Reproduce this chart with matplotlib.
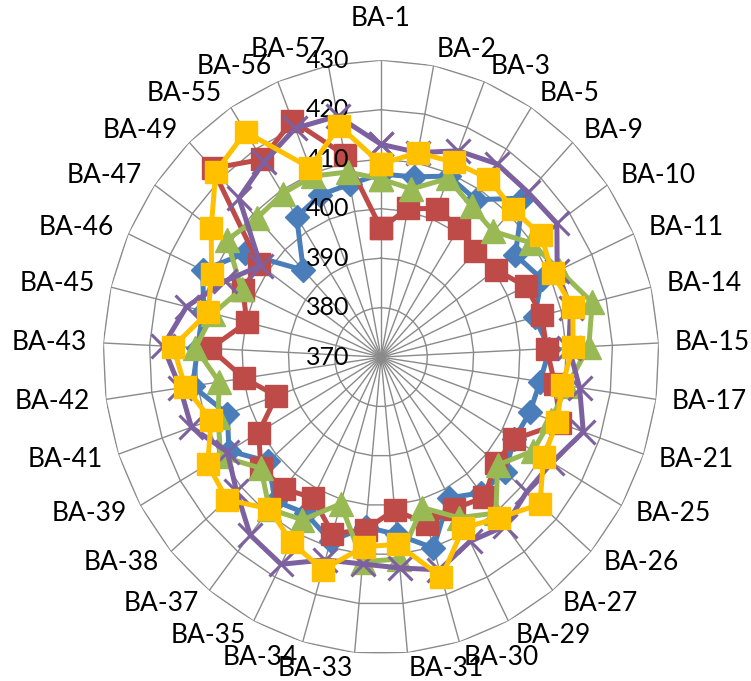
import numpy as np
import matplotlib
matplotlib.use("Agg")
import matplotlib.pyplot as plt
from matplotlib import transforms

plt.rcParams['font.family'] = ['Lato', 'DejaVu Sans']

categories = ['BA-1', 'BA-2', 'BA-3', 'BA-5', 'BA-9', 'BA-10', 'BA-11', 'BA-14', 'BA-15',
              'BA-17', 'BA-21', 'BA-25', 'BA-26', 'BA-27', 'BA-29', 'BA-30', 'BA-31',
              'BA-33', 'BA-34', 'BA-35', 'BA-37', 'BA-38', 'BA-39', 'BA-41', 'BA-42',
              'BA-43', 'BA-45', 'BA-46', 'BA-47', 'BA-49', 'BA-55', 'BA-56', 'BA-57']

series_blue = [407, 407.1, 409.4, 407.8, 414.4, 405.6, 408.1, 404.1, 406.4, 404.7, 404,
               403.2, 405.4, 404.9, 402, 410.2, 406, 404.5, 408.7, 405.5, 407, 402.2, 407.9,
               405.1, 411.1, 409.6, 409.4, 412.3, 406.1, 394.3, 403.7, 405.3, 405.6]
series_red = [396, 400.6, 402.3, 401.1, 399.5, 400.4, 404.4, 405.7, 405.8, 407.9, 410.9,
              403.2, 402.8, 406, 404.5, 405.2, 401, 405, 407.2, 402, 403.9, 404.3, 400.5,
              393.9, 399.9, 406.9, 399.8, 402.8, 402.4, 422.7, 417.5, 421.5, 411.6]
series_green = [406, 404.6, 408.9, 406.2, 405.1, 409.8, 412.3, 416.9, 414.9, 410.6, 408.8,
                407.9, 403.3, 410.1, 406.5, 401.7, 411, 411.5, 400.9, 407, 409, 404.3, 410,
                407.2, 405.3, 410.1, 407.3, 403.1, 410.8, 408.8, 409.3, 409.4, 408.1]
series_purple = [413, 412.1, 414.9, 416.4, 416, 416.6, 411.8, 412.1, 410.6, 413.3, 416.2,
                 412.6, 411.6, 413.4, 411.9, 414.8, 412.8, 412, 412.7, 417.1, 415.7, 411.3,
                 408.3, 413.3, 413.8, 417.1, 413.2, 407, 401.9, 414.4, 416.8, 419.8, 419.6]
series_yellow = [409, 412.1, 412.4, 412.9, 411.3, 412.4, 410.7, 412.6, 411.5, 409.5, 410.2,
                 410.5, 415.4, 411.3, 408.8, 416.3, 408, 408.5, 414.8, 412.1, 409, 414, 413.2,
                 408.8, 412.7, 414.9, 408.4, 410.2, 415, 421.7, 424.1, 411.2, 417.6]

ring_values = [370, 380, 390, 400, 410, 420, 430]

n = len(categories)
theta = np.arange(n) * 2 * np.pi / n
theta_closed = np.append(theta, theta[0])

fig = plt.figure(figsize=(7.51, 6.81), dpi=100)
# plot area is slightly narrower than tall
ax = fig.add_axes([0.1372, 0.0396, 0.7403, 0.872], projection='polar')
ax.set_aspect('auto')
ax.set_theta_zero_location('N')
ax.set_theta_direction(-1)
ax.set_ylim(370, 430)
ax.grid(False)
ax.spines['polar'].set_visible(False)
ax.set_xticks([])
ax.set_yticks([])
ax.patch.set_alpha(0)

grid_color = '#8a8a8a'
# polygonal rings
for v in ring_values[1:]:
    ax.plot(theta_closed, [v] * (n + 1), color=grid_color, lw=1.0, zorder=1)
# spokes
for t in theta:
    ax.plot([t, t], [370, 430], color=grid_color, lw=1.0, zorder=1)

# value axis labels beside the vertical spoke
for v in ring_values:
    tr = transforms.offset_copy(ax.transData, fig=fig, x=-32, y=0, units='dots')
    ax.text(0, v, str(v), transform=tr, ha='right', va='center', fontsize=18,
            color='black', zorder=6)

# category labels around the outer ring
for t, name in zip(theta, categories):
    s, c = np.sin(t), np.cos(t)
    ha = 'left' if s > 0.05 else ('right' if s < -0.05 else 'center')
    pad = 16 + 26 * max(c, 0) ** 200
    tr = transforms.offset_copy(ax.transData, fig=fig, x=pad * s, y=pad * c, units='dots')
    ax.text(t, 430, name, transform=tr, ha=ha, va='center', fontsize=19, color='black',
            clip_on=False)

styles = [
    (series_blue, '#4A7EBB', 'D', 12),
    (series_red, '#BE4B48', 's', 16),
    (series_green, '#98B954', '^', 17),
    (series_purple, '#7D60A0', 'x', 17),
    (series_yellow, '#FFC000', 's', 16),
]
for z, (vals, col, mk, ms) in enumerate(styles):
    vv = np.append(vals, vals[0])
    if mk == 'x':
        ax.plot(theta_closed, vv, color=col, lw=3.6, marker='x', ms=ms, mew=2.2,
                zorder=3 + z, clip_on=False)
    else:
        ax.plot(theta_closed, vv, color=col, lw=3.6, marker=mk, ms=ms,
                mfc=col, mec=col, zorder=3 + z, clip_on=False)

fig.savefig('out.png', dpi=100)
